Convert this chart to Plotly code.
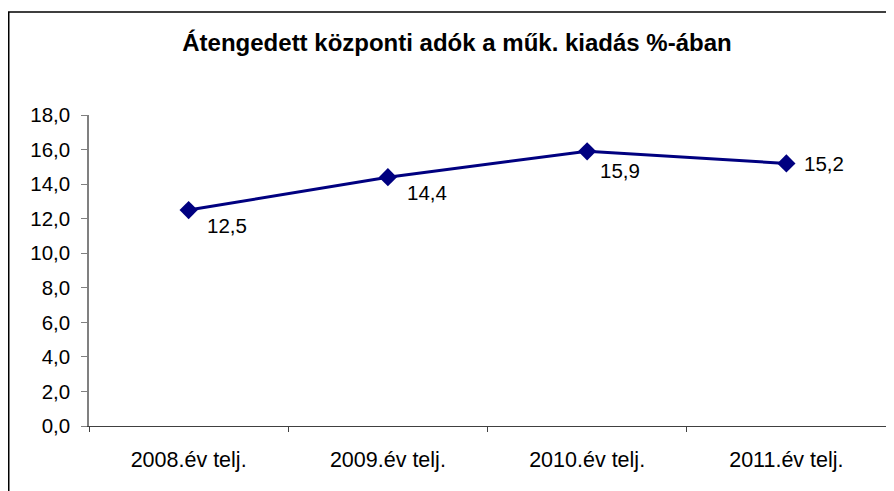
import plotly.graph_objects as go

categories = ["2008.év telj.", "2009.év telj.", "2010.év telj.", "2011.év telj."]
values = [12.5, 14.4, 15.9, 15.2]
value_labels = ["12,5", "14,4", "15,9", "15,2"]
y_ticks = [0, 2, 4, 6, 8, 10, 12, 14, 16, 18]
y_tick_labels = ["0,0", "2,0", "4,0", "6,0", "8,0", "10,0", "12,0", "14,0", "16,0", "18,0"]
title = "Átengedett központi adók a műk. kiadás %-ában"

# label offsets in pixels (style, not data)
label_dx = [16, 17, 11, 16]
label_dy = [-15, -15, -19, 0]

FONT = "Liberation Sans, Arial, sans-serif"
# page body has an 8px margin; figure is sized to fill the rest of the 894x491 window
W, H = 886, 483
ml, mr, mt, mb = 81, 8, 107, 65
pw, ph = W - ml - mr, H - mt - mb

fig = go.Figure()
fig.add_trace(go.Scatter(
    x=categories, y=values, mode="lines+markers",
    line=dict(color="#000080", width=3),
    marker=dict(symbol="diamond", size=14, color="#000080"),
    cliponaxis=False, showlegend=False,
))

for c, v, t, dx, dy in zip(categories, values, value_labels, label_dx, label_dy):
    fig.add_annotation(x=c, y=v, text=t, showarrow=False, xanchor="left", yanchor="middle",
                       xshift=dx, yshift=dy, font=dict(family=FONT, size=20.5, color="#000000"))

fig.update_layout(
    width=W, height=H,
    margin=dict(l=ml, r=mr, t=mt, b=mb),
    paper_bgcolor="white", plot_bgcolor="white",
    font=dict(family=FONT, size=20.5, color="#000000"),
    title=dict(text="<b>" + title + "</b>", x=449 / W, xanchor="center",
               y=1 - 35 / H, yanchor="middle",
               font=dict(size=24, family=FONT, color="#000000")),
    xaxis=dict(
        type="category", tickson="boundaries", ticks="outside", ticklen=5,
        tickcolor="#404040", showline=True, linecolor="#404040", linewidth=1.2,
        showgrid=False, zeroline=False, range=[-0.5, 3.5], ticklabelstandoff=14,
        tickfont=dict(size=21.5),
    ),
    yaxis=dict(
        range=[0, 18], tickvals=y_ticks, ticktext=y_tick_labels,
        ticks="outside", ticklen=6, tickcolor="#808080",
        showline=True, linecolor="#808080", linewidth=1.5,
        showgrid=False, zeroline=False, ticklabelstandoff=7,
        tickfont=dict(size=20.5),
    ),
)

# outer chart border (extends beyond bottom/right edges like the reference)
fig.add_shape(type="rect", xref="paper", yref="paper",
              x0=(0.75 - ml) / pw, x1=(W + 10 - ml) / pw,
              y0=-(mb + 10) / ph, y1=1 + (mt - 4) / ph,
              line=dict(color="#000000", width=1.5), fillcolor="rgba(0,0,0,0)", layer="below")

fig.write_html("out.html")
